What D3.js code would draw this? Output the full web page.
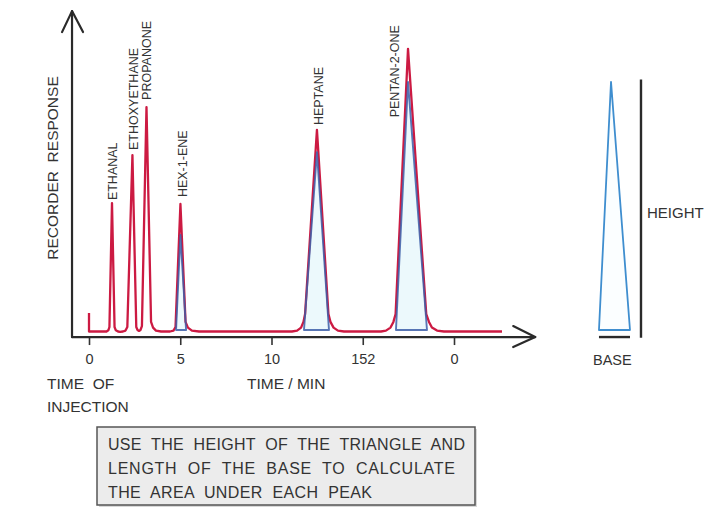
<html>
<head>
	<meta charset="utf-8">
	<title>chromatogram</title>
	<script src="https://d3js.org/d3.v7.min.js"></script>
	<style type="text/css">
		body{ margin:0; background:white; }
		text{ font-family:"Liberation Sans", Arial, sans-serif; fill:#333; }
		.axis line{ stroke:#333; stroke-width:1.6; }
		.axis path{ display:none; }
		.axis text{ font-size:14.5px; fill:#333; }
	</style>
</head>
<body>
	<script type="text/javascript">

		var w = 720;
		var h = 509;

		// x 轴刻度 (时间/min) 和标签，标签照抄原图
		var tickTimes = [0, 5, 10, 15, 20];
		var tickLabels = ["0", "5", "10", "152", "0"];

		// 记录仪信号：时间 (min) 与响应值
		var signalTime = [0, 0, 0.96, 1.06, 1.12, 1.26, 1.40, 1.47, 1.59, 1.70, 1.86,
			2.00, 2.10, 2.38, 2.59, 2.66, 2.74, 2.82, 2.90, 3.15, 3.40, 3.51, 3.67, 3.95, 4.44,
			4.63, 4.74, 5.01, 5.29, 5.42, 5.64, 6.03, 11.12,
			11.40, 11.62, 11.75, 11.84, 12.49, 13.12, 13.23, 13.40, 13.64, 13.97, 16.00,
			16.27, 16.52, 16.68, 16.80, 17.48, 18.48, 18.63, 18.79, 19.07, 19.45, 22.63];
		var signalResponse = [7.7, 1.5, 1.5, 1.9, 3.0, 44.3, 3.0, 1.9, 1.5, 1.4, 1.5,
			1.8, 3.0, 60.3, 3.0, 2.0, 1.7, 2.0, 3.3, 76.3, 4.7, 2.8, 1.8, 1.5, 1.5,
			1.8, 3.0, 44.0, 4.7, 2.8, 1.8, 1.5, 1.5,
			1.8, 2.8, 4.7, 7.3, 68.7, 7.3, 4.7, 2.8, 1.8, 1.5, 1.5,
			1.8, 2.8, 4.7, 7.3, 95.7, 7.3, 4.7, 2.8, 1.8, 1.5, 1.5];

		// 峰名称及标签位置
		var peakNames = ["ETHANAL", "ETHOXYETHANE", "PROPANONE", "HEX-1-ENE", "HEPTANE", "PENTAN-2-ONE"];
		var labelTime = [1.53, 2.66, 3.42, 5.37, 12.82, 17.0];
		var labelResponse = [45.3, 62.0, 78.7, 46.3, 70.3, 72.9];

		// 三角形近似 (己-1-烯, 庚烷, 戊-2-酮)
		var triLeft = [4.77, 11.78, 16.82];
		var triApex = [5.01, 12.49, 17.48];
		var triRight = [5.32, 13.15, 18.52];
		var triHeight = [33.7, 61.3, 84.7];
		var triBase = 2.0;

		// 尺度
		var xScale = d3.scaleLinear()
			.domain([0, 20])
			.range([89, 454]);
		var yScale = d3.scaleLinear()
			.domain([0, 100])
			.range([336, 36]);

		var svg = d3.select("body").append("svg")
			.attr("width", w)
			.attr("height", h);

		svg.append("rect")
			.attr("width", w)
			.attr("height", h)
			.attr("fill", "white");

		var triangles = triApex.map(function(d, i){
			return [[triLeft[i], triBase], [d, triHeight[i]], [triRight[i], triBase]];
		});
		var triPath = function(t){
			return "M" + t.map(function(p){ return xScale(p[0]) + "," + yScale(p[1]); }).join("L") + "Z";
		};

		// 三角形填充 (放在曲线下面)
		svg.selectAll("path.trifill")
			.data(triangles)
			.enter()
			.append("path")
			.attr("class", "trifill")
			.attr("d", triPath)
			.attr("fill", "#ecf9fc")
			.attr("stroke", "none");

		// 信号曲线
		var line = d3.line()
			.x(function(d){ return xScale(d[0]); })
			.y(function(d){ return yScale(d[1]); });

		svg.append("path")
			.datum(signalTime.map(function(t, i){ return [t, signalResponse[i]]; }))
			.attr("d", line)
			.attr("fill", "none")
			.attr("stroke", "#cc1a42")
			.attr("stroke-width", 2.3)
			.attr("stroke-linejoin", "round");

		// 三角形边框 (叠在曲线上)
		svg.selectAll("path.triedge")
			.data(triangles)
			.enter()
			.append("path")
			.attr("class", "triedge")
			.attr("d", triPath)
			.attr("fill", "none")
			.attr("stroke", "#3c5ea8")
			.attr("stroke-opacity", 0.85)
			.attr("stroke-width", 1.9)
			.attr("stroke-linejoin", "round");

		// 坐标轴
		var xAxis = d3.axisBottom()
			.scale(xScale)
			.tickValues(tickTimes)
			.tickFormat(function(d, i){ return tickLabels[i]; })
			.tickSize(8)
			.tickPadding(9);
		svg.append("g")
			.attr("class", "axis")
			.attr("transform", "translate(0," + yScale(-0.35) + ")")
			.call(xAxis);

		var x0 = xScale(-0.93), xEnd = xScale(24.45);
		var y0 = yScale(-0.35), yTop = yScale(108.3);
		var axisLine = svg.append("g")
			.attr("fill", "none")
			.attr("stroke", "#2a2a2a")
			.attr("stroke-width", 2.2)
			.attr("stroke-linecap", "round")
			.attr("stroke-linejoin", "round");
		axisLine.append("path").attr("d", "M" + x0 + "," + y0 + "L" + xEnd + "," + y0);
		axisLine.append("path").attr("d", "M" + x0 + "," + y0 + "L" + x0 + "," + yTop);
		axisLine.append("path").attr("d", "M" + (x0 - 10) + "," + (yTop + 21) + "L" + x0 + "," + yTop + "L" + (x0 + 11) + "," + (yTop + 21));
		axisLine.append("path").attr("d", "M" + (xEnd - 22) + "," + (y0 - 11) + "L" + xEnd + "," + y0 + "L" + (xEnd - 22) + "," + (y0 + 10));

		// 峰标签
		svg.selectAll("text.peak")
			.data(peakNames)
			.enter()
			.append("text")
			.attr("class", "peak")
			.text(function(d){ return d; })
			.attr("transform", function(d, i){
				return "translate(" + xScale(labelTime[i]) + "," + yScale(labelResponse[i]) + ") rotate(-90)";
			})
			.attr("font-size", "12.5px");

		// 轴标题
		svg.append("text")
			.text("RECORDER  RESPONSE")
			.style("white-space", "pre")
			.attr("transform", "translate(58,168) rotate(-90)")
			.attr("text-anchor", "middle")
			.attr("font-size", "15.5px");
		svg.append("text").text("TIME  OF").style("white-space", "pre")
			.attr("x", 47).attr("y", 389).attr("font-size", "15.5px");
		svg.append("text").text("INJECTION")
			.attr("x", 47).attr("y", 412).attr("font-size", "15.5px");
		svg.append("text").text("TIME / MIN")
			.attr("x", 247).attr("y", 389).attr("font-size", "15.5px");

		// 右侧示意三角形 (与戊-2-酮三角形相同，平移)
		var demo = svg.append("g")
			.attr("transform", "translate(203,0)");
		demo.append("path")
			.attr("d", triPath(triangles[2]))
			.attr("fill", "#fbfeff")
			.attr("stroke", "#3f8ecf")
			.attr("stroke-width", 1.8)
			.attr("stroke-linejoin", "round");
		demo.append("line")
			.attr("x1", xScale(triLeft[2])).attr("x2", xScale(triRight[2]))
			.attr("y1", yScale(-0.35)).attr("y2", yScale(-0.35))
			.attr("stroke", "#2a2a2a").attr("stroke-width", 2.4);
		demo.append("line")
			.attr("x1", xScale(triRight[2]) + 11).attr("x2", xScale(triRight[2]) + 11)
			.attr("y1", yScale(85.5)).attr("y2", yScale(-0.6))
			.attr("stroke", "#2a2a2a").attr("stroke-width", 2.4);
		svg.append("text").text("BASE")
			.attr("x", 593).attr("y", 365).attr("font-size", "14.5px");
		svg.append("text").text("HEIGHT")
			.attr("x", 647).attr("y", 218).attr("font-size", "15px");

		// 说明框
		var noteLines = ["USE  THE  HEIGHT  OF  THE  TRIANGLE  AND",
			"LENGTH  OF  THE  BASE  TO  CALCULATE",
			"THE  AREA  UNDER  EACH  PEAK"];
		var noteWidths = [357, 347, 264];
		svg.append("rect")
			.attr("x", 99).attr("y", 429)
			.attr("width", 378).attr("height", 78)
			.attr("fill", "#d8d8d8");
		svg.append("rect")
			.attr("x", 97).attr("y", 427)
			.attr("width", 378).attr("height", 78)
			.attr("fill", "#ececec")
			.attr("stroke", "#555")
			.attr("stroke-width", 1.5);
		svg.selectAll("text.note")
			.data(noteLines)
			.enter()
			.append("text")
			.attr("class", "note")
			.text(function(d){ return d; })
			.style("white-space", "pre")
			.attr("x", 108)
			.attr("y", function(d, i){ return 450 + i * 24; })
			.attr("textLength", function(d, i){ return noteWidths[i]; })
			.attr("lengthAdjust", "spacing")
			.attr("font-size", "16px");
	</script>
</body>
</html>
